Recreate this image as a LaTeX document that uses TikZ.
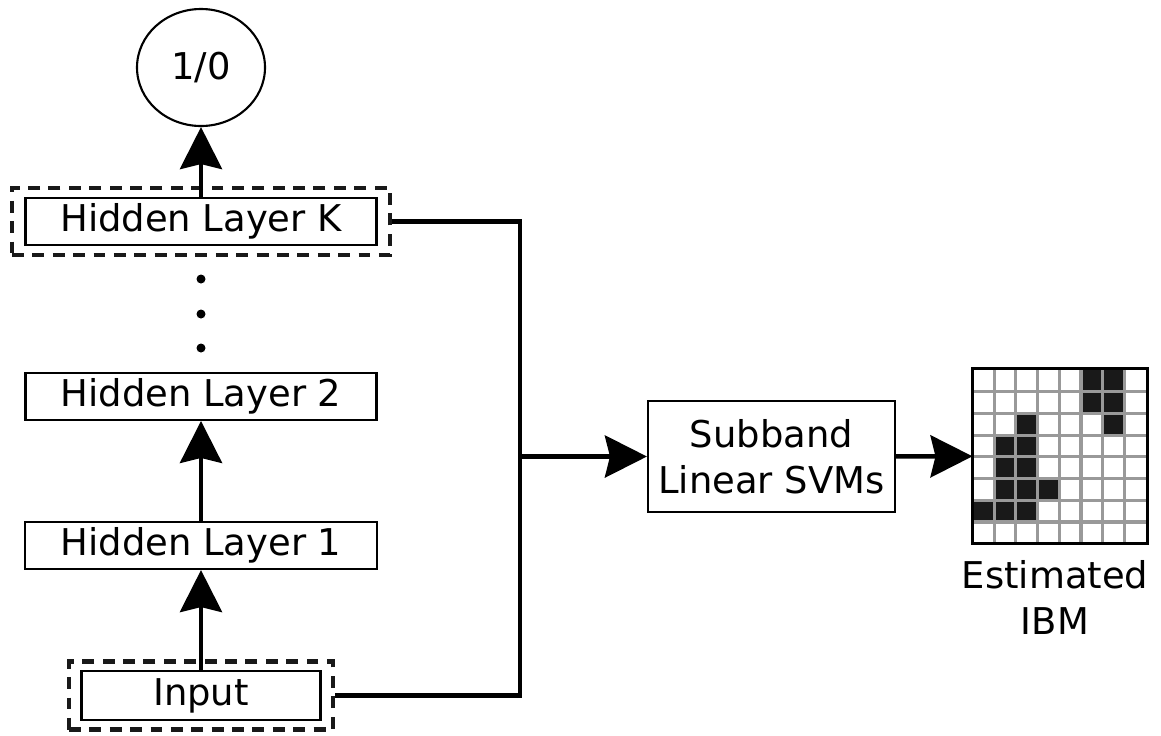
\documentclass[tikz,border=0pt]{standalone}
\usepackage{fontspec}
\setmainfont{DejaVu Sans}
\usetikzlibrary{arrows.meta}
\usetikzlibrary{positioning}
\usetikzlibrary{shapes.geometric}

\begin{document}
\begin{tikzpicture}[
        every node/.append style={font=\fontsize{10.5}{13.2}\selectfont, inner sep=0pt},
        box/.style={draw=black, line width=0.6pt, minimum height=0.47cm, align=center},
        frame/.style={draw=black!90, line width=1.3pt, dash pattern=on 3.4pt off 2.4pt},
        arr/.style={line width=1.3pt, -{Stealth[length=4.2mm, width=4.2mm, inset=0.5mm]}},
        conn/.style={line width=1.4pt}
    ]
        \useasboundingbox (0,0) rectangle (11.61,7.35);

        \node[box, minimum width=3.52cm] (h1) at (2.01,1.895) {Hidden Layer 1};
        \node[box, minimum width=3.51cm, above=1cm of h1] (h2) {Hidden Layer 2};
        \node[box, minimum width=2.39cm, minimum height=0.49cm, below=1cm of h1] (in) {Input};
        \node[box, minimum width=3.51cm] (hk) at (2.01,5.135) {Hidden Layer K};
        \node[draw, ellipse, line width=0.6pt, minimum width=1.28cm, minimum height=1.17cm] (out) at (2.01,6.675) {1/0};
        \node[frame, minimum width=3.78cm, minimum height=0.67cm] (hkf) at (hk) {};
        \node[frame, minimum width=2.64cm, minimum height=0.68cm] (inf) at (in) {};
        \node[box, minimum width=2.47cm, minimum height=1.11cm] (svm) at (7.715,2.785) {Subband\\Linear SVMs};
        \node[minimum size=1.736cm] (ibm) at (10.6,2.788) {};
        \node[align=center] (lbl) at (10.55,1.375) {Estimated\\IBM};
        \coordinate (j) at (5.20,2.785);

        \foreach \y in {4.56,4.21,3.87}
            \fill (2.01,\y) circle (0.045);

        \begin{scope}[shift={(ibm.south west)}, x=0.217cm, y=0.217cm]
            \foreach \c/\r in {5/7,6/7,5/6,6/6,2/5,6/5,1/4,2/4,1/3,2/3,1/2,2/2,3/2,0/1,1/1,2/1}
                \fill[black!90] (\c,\r) rectangle ++(1,1);
            \foreach \i in {1,...,7} {
                \draw[black!40, line width=0.9pt] (\i,0) -- (\i,8);
                \draw[black!40, line width=0.9pt] (0,\i) -- (8,\i);
            }
        \end{scope}
        \draw[line width=1pt] (ibm.south west) rectangle (ibm.north east);

        \draw[arr] (in) -- (h1);
        \draw[arr] (h1) -- (h2);
        \draw[arr] (hk) -- (out);
        \draw[conn] (hkf.east) -| (j);
        \draw[conn] (inf.east) -| (j);
        \draw[arr] (j) -- (svm);
        \draw[arr] (svm) -- (ibm);
    \end{tikzpicture}
\end{document}
